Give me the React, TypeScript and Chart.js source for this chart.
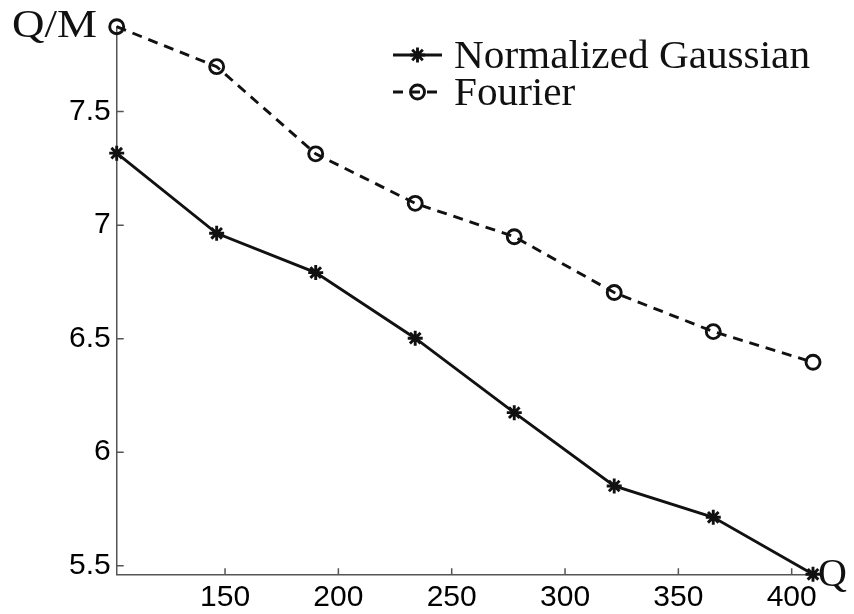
import { useEffect, useRef } from "react";
import { Chart, registerables } from "chart.js";

Chart.register(...registerables);

// Q values sampled along the horizontal axis
const qValues = [102.2, 146.3, 190.0, 233.9, 277.6, 321.7, 365.4, 409.4];
// Q/M for each method
const gaussianValues = [7.317, 6.964, 6.791, 6.502, 6.174, 5.851, 5.713, 5.462];
const fourierValues = [7.874, 7.698, 7.314, 7.096, 6.949, 6.703, 6.531, 6.396];

const xTicks = [150, 200, 250, 300, 350, 400];
const yTicks = [5.5, 6, 6.5, 7, 7.5];

const seriesNames = ["Normalized Gaussian", "Fourier"];
const xTitle = "Q";
const yTitle = "Q/M";

const INK = "#111111";
const AXIS = "#555555";
const SERIF = '"Liberation Serif", "Times New Roman", serif';
const SANS = '"Liberation Sans", Arial, Helvetica, sans-serif';

const DASH = [10, 7];
const LINE_W = 2.9;

// eight-armed asterisk used as the legend marker
function drawStar(ctx: CanvasRenderingContext2D, cx: number, cy: number, r: number) {
  ctx.beginPath();
  for (let k = 0; k < 4; k++) {
    const a = (k * Math.PI) / 4;
    const dx = Math.cos(a) * r;
    const dy = Math.sin(a) * r;
    ctx.moveTo(cx - dx, cy - dy);
    ctx.lineTo(cx + dx, cy + dy);
  }
  ctx.stroke();
}

// text stretched horizontally to a given width
function fitText(ctx: CanvasRenderingContext2D, text: string, x: number, y: number, width: number) {
  const w = ctx.measureText(text).width;
  ctx.save();
  ctx.translate(x, y);
  ctx.scale(width / w, 1);
  ctx.fillText(text, 0, 0);
  ctx.restore();
}

// Inward tick marks, axis titles and the legend box
const decorations = {
  id: "decorations",
  afterDraw(chart: any) {
    const { ctx, chartArea } = chart;
    const xs = chart.scales.x;
    const ys = chart.scales.y;
    ctx.save();

    // tick marks pointing into the plot
    ctx.strokeStyle = AXIS;
    ctx.lineWidth = 1.5;
    ctx.beginPath();
    for (const t of xTicks) {
      const px = xs.getPixelForValue(t);
      ctx.moveTo(px, chartArea.bottom);
      ctx.lineTo(px, chartArea.bottom - 6);
    }
    for (const t of yTicks) {
      const py = ys.getPixelForValue(t);
      ctx.moveTo(chartArea.left, py);
      ctx.lineTo(chartArea.left + 7, py);
    }
    ctx.stroke();

    // axis titles
    ctx.fillStyle = INK;
    ctx.font = `40px ${SERIF}`;
    ctx.textBaseline = "alphabetic";
    ctx.textAlign = "left";
    fitText(ctx, yTitle, 12, 37, 85);
    ctx.fillText(xTitle, chartArea.right + 5, chartArea.bottom + 12);

    // legend
    const lx0 = 393;
    const lx1 = 442;
    const row1 = 55;
    const row2 = 92;
    const textX = 454;

    ctx.strokeStyle = INK;
    ctx.lineWidth = LINE_W;
    ctx.setLineDash([]);
    ctx.beginPath();
    ctx.moveTo(lx0, row1);
    ctx.lineTo(lx1, row1);
    ctx.stroke();
    drawStar(ctx, (lx0 + lx1) / 2, row1, 7.5);

    ctx.setLineDash(DASH);
    ctx.beginPath();
    ctx.moveTo(lx0, row2);
    ctx.lineTo(lx1, row2);
    ctx.stroke();
    ctx.setLineDash([]);
    ctx.beginPath();
    ctx.arc((lx0 + lx1) / 2, row2, 7, 0, Math.PI * 2);
    ctx.stroke();

    ctx.fillStyle = INK;
    ctx.font = `41px ${SERIF}`;
    fitText(ctx, seriesNames[0], textX, 68, 356);
    const fw = ctx.measureText(seriesNames[1]).width;
    fitText(ctx, seriesNames[1], textX, 105, fw * (356 / ctx.measureText(seriesNames[0]).width));

    ctx.restore();
  },
};

export default function App() {
  const canvasRef = useRef<HTMLCanvasElement | null>(null);

  useEffect(() => {
    const canvas = canvasRef.current;
    if (!canvas) return;

    const allY = [...gaussianValues, ...fourierValues];
    const chart = new Chart(canvas, {
      type: "line",
      data: {
        datasets: [
          {
            label: seriesNames[0],
            data: qValues.map((q, i) => ({ x: q, y: gaussianValues[i] })),
            borderColor: INK,
            backgroundColor: INK,
            borderWidth: LINE_W,
            pointStyle: "star",
            pointRadius: 7.5,
            pointBorderWidth: LINE_W,
            pointBorderColor: INK,
            tension: 0,
            clip: false,
          },
          {
            label: seriesNames[1],
            data: qValues.map((q, i) => ({ x: q, y: fourierValues[i] })),
            borderColor: INK,
            backgroundColor: "rgba(0,0,0,0)",
            borderWidth: LINE_W,
            borderDash: DASH,
            pointStyle: "circle",
            pointRadius: 7,
            pointBorderWidth: LINE_W,
            pointBorderColor: INK,
            pointBackgroundColor: "rgba(0,0,0,0)",
            tension: 0,
            clip: false,
          },
        ],
      },
      options: {
        responsive: false,
        animation: false,
        events: [],
        layout: { padding: { top: 26.7, right: 41, left: 0, bottom: 0 } },
        plugins: {
          legend: { display: false },
          tooltip: { enabled: false },
        },
        scales: {
          x: {
            type: "linear",
            min: qValues[0],
            max: qValues[qValues.length - 1],
            afterBuildTicks: (s: any) => {
              s.ticks = xTicks.map((v) => ({ value: v }));
            },
            afterFit: (s: any) => {
              s.height = 39.7;
            },
            grid: { display: false, drawTicks: false },
            border: { display: true, color: AXIS, width: 1.5 },
            ticks: {
              color: "#000",
              font: { family: SANS, size: 30 },
              padding: 5,
              maxRotation: 0,
              autoSkip: false,
              callback: (v: any) => String(v),
            },
          },
          y: {
            type: "linear",
            min: Math.min(...allY),
            max: Math.max(...allY),
            afterBuildTicks: (s: any) => {
              s.ticks = yTicks.map((v) => ({ value: v }));
            },
            afterFit: (s: any) => {
              s.width = 116.7;
            },
            grid: { display: false, drawTicks: false },
            border: { display: true, color: AXIS, width: 1.5 },
            ticks: {
              color: "#000",
              font: { family: SANS, size: 30 },
              padding: 6,
              autoSkip: false,
              callback: (v: any) => String(v),
            },
          },
        },
      },
      plugins: [decorations],
    });

    if ((document as any).fonts) {
      Promise.all([
        document.fonts.load(`40px ${SERIF}`),
        document.fonts.load(`30px ${SANS}`),
      ]).then(() => chart.update());
    }

    return () => chart.destroy();
  }, []);

  return (
    <div style={{ position: "fixed", left: 0, top: 0, width: 854, height: 614, background: "#fff" }}>
      <canvas ref={canvasRef} width={854} height={614} style={{ display: "block" }} />
    </div>
  );
}
